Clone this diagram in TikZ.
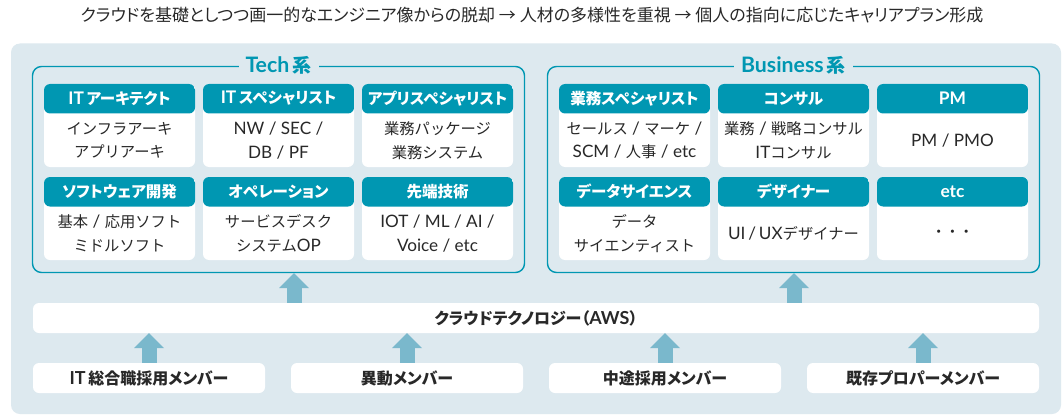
\documentclass[tikz,border=0pt]{standalone}
\usepackage{fontspec}
\setmainfont{Noto Sans CJK JP}[RawFeature=+palt]
\newfontfamily\plainjp{Noto Sans CJK JP}
\newfontfamily\latfont{Lato}[Scale=1.12]
\newcommand\lat[1]{{\latfont #1}}
\usetikzlibrary{arrows.meta,calc}
\definecolor{bgc}{RGB}{221,233,239}
\definecolor{tealc}{RGB}{0,151,178}
\definecolor{arrc}{RGB}{122,184,204}
\definecolor{txtc}{RGB}{40,40,40}

\newcommand\mkcard[5]{%
  \node[card] (#1) at (#2,#3) {};
  \node[headtext] (#1h) at ([yshift=-14.75pt]#1.north) {#4};
  \node[bodytext] (#1b) at ([yshift=26.75pt]#1.south) {#5};
}

\begin{document}
\begin{tikzpicture}[x=1pt,y=-1pt,
  panel/.style={fill=bgc, rounded corners=9pt, inner sep=0pt},
  frame/.style={draw=tealc, line width=1.4pt, rounded corners=9pt, inner sep=0pt, minimum width=492pt, minimum height=206pt},
  frametitle/.style={fill=bgc, text=tealc, font=\bfseries\fontsize{19}{22}\selectfont, inner xsep=7pt, inner ysep=1pt},
  card/.style={rounded corners=6pt, fill=white, minimum width=151pt, minimum height=83pt, inner sep=0pt,
    path picture={\fill[tealc] (path picture bounding box.north west) rectangle ([yshift=-29.5pt]path picture bounding box.north east);}},
  headtext/.style={font=\bfseries\fontsize{15.5}{18}\selectfont, text=white, inner sep=0pt},
  bodytext/.style={font=\plainjp\fontsize{15.3}{23.5}\selectfont, text=txtc, align=center, inner sep=0pt},
  bar/.style={fill=white, rounded corners=6pt, inner sep=0pt, minimum height=30pt, font=\bfseries\fontsize{16}{18}\selectfont, text=txtc},
  blockarrow/.style={draw=arrc, line width=15pt, -{Triangle[width=30pt,length=15pt,line width=0pt]}},
  titletext/.style={font=\fontsize{17}{20}\selectfont, text=txtc, inner sep=0pt}
]
\useasboundingbox (0,0) rectangle (1064,417);
\fill[white] (0,0) rectangle (1064,417);

\node[titletext] (title) at (532,15) {クラウドを基礎としつつ画一的なエンジニア像からの脱却 → 人材の多様性を重視 → 個人の指向に応じたキャリアプラン形成};

\node[panel, minimum width=1050pt, minimum height=370.5pt] (panel) at (536,228.75) {};

\node[frame] (tech) at (278.5,169.5) {};
\node[frame] (biz) at (793.5,169.5) {};
\node[frametitle] (techt) at (tech.north) {\lat{Tech}\,系};
\node[frametitle] (bizt) at (biz.north) {\lat{Business}\,系};

\mkcard{t11}{119.5}{125.5}{\lat{IT}\,アーキテクト}{インフラアーキ\\アプリアーキ}
\mkcard{t12}{278.5}{125.5}{\lat{IT}\,スペシャリスト}{\lat{NW / SEC /}\\\lat{DB / PF}}
\mkcard{t13}{437.5}{125.5}{アプリスペシャリスト}{業務パッケージ\\業務システム}
\mkcard{t21}{119.5}{218.5}{ソフトウェア開発}{基本\lat{ / }応用ソフト\\ミドルソフト}
\mkcard{t22}{278.5}{218.5}{オペレーション}{サービスデスク\\システム\lat{OP}}
\mkcard{t23}{437.5}{218.5}{先端技術}{\lat{IOT / ML / AI /}\\\lat{Voice / etc}}

\mkcard{b11}{634.5}{125.5}{業務スペシャリスト}{セールス\lat{ / }マーケ\lat{ /}\\\lat{SCM / }人事\lat{ / etc}}
\mkcard{b12}{793.5}{125.5}{コンサル}{業務\lat{ / }戦略コンサル\\\lat{IT}コンサル}
\mkcard{b13}{952.5}{125.5}{\lat{PM}}{\lat{PM / PMO}}
\mkcard{b21}{634.5}{218.5}{データサイエンス}{データ\\サイエンティスト}
\mkcard{b22}{793.5}{218.5}{デザイナー}{\lat{UI\,/\,UX}デザイナー}
\mkcard{b23}{952.5}{218.5}{\lat{etc}}{・\hspace{-0.1em}・\hspace{-0.1em}・}

\node[bar, minimum width=1006pt] (aws) at (536,318) {クラウドテクノロジー（\lat{AWS}）};

\node[bar, minimum width=232pt] (m1) at (149,378) {\lat{IT}\,総合職採用メンバー};
\node[bar, minimum width=232pt] (m2) at (407,378) {異動メンバー};
\node[bar, minimum width=232pt] (m3) at (665,378) {中途採用メンバー};
\node[bar, minimum width=232pt] (m4) at (923,378) {既存プロパーメンバー};

\coordinate (ua) at (294,0);
\coordinate (ub) at (794,0);
\draw[blockarrow] (ua |- aws.north) -- (ua |- tech.south);
\draw[blockarrow] (ub |- aws.north) -- (ub |- biz.south);

\draw[blockarrow] (m1.north) -- (m1.north |- aws.south);
\draw[blockarrow] (m2.north) -- (m2.north |- aws.south);
\draw[blockarrow] (m3.north) -- (m3.north |- aws.south);
\draw[blockarrow] (m4.north) -- (m4.north |- aws.south);
\end{tikzpicture}
\end{document}
